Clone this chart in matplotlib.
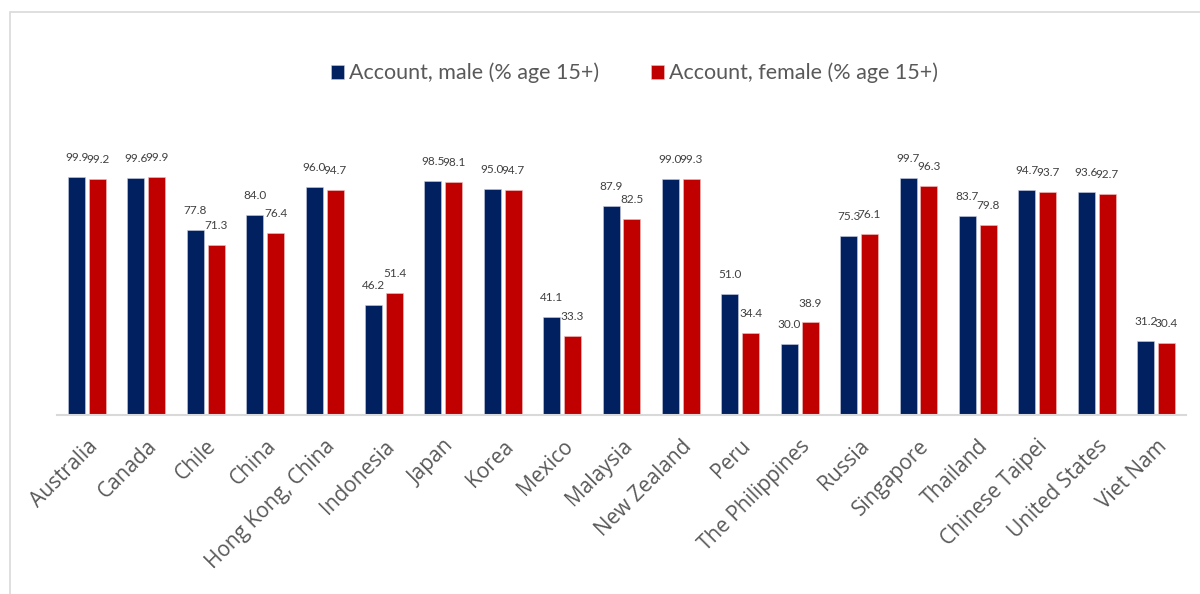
import matplotlib.pyplot as plt
import numpy as np
from matplotlib.patches import Rectangle

economies = [
    "Australia", "Canada", "Chile", "China", "Hong Kong, China", "Indonesia",
    "Japan", "Korea", "Mexico", "Malaysia", "New Zealand", "Peru",
    "The Philippines", "Russia", "Singapore", "Thailand", "Chinese Taipei",
    "United States", "Viet Nam",
]
male = [99.9, 99.6, 77.8, 84.0, 96.0, 46.2, 98.5, 95.0, 41.1, 87.9,
        99.0, 51.0, 30.0, 75.3, 99.7, 83.7, 94.7, 93.6, 31.2]
female = [99.2, 99.9, 71.3, 76.4, 94.7, 51.4, 98.1, 94.7, 33.3, 82.5,
          99.3, 34.4, 38.9, 76.1, 96.3, 79.8, 93.7, 92.7, 30.4]

plt.rcParams["font.family"] = ["Lato", "DejaVu Sans"]

NAVY = "#002060"
RED = "#C00000"
GREY_TEXT = "#595959"

fig = plt.figure(figsize=(12, 5.94), dpi=100)

# outer chart frame (cut off at right and bottom like the source)
fig.patches.append(Rectangle((10 / 1200, -0.2), 1.5, 1 - 12 / 594 + 0.2,
                             transform=fig.transFigure, fill=False,
                             edgecolor="#d9d9d9", linewidth=1.2))

ax = fig.add_axes([0.0478, 0.3013, 0.9403, 0.4407])
x = np.arange(len(economies))
width = 0.286
off = 0.176

bars_m = ax.bar(x - off, male, width, color=NAVY, edgecolor="#c8cde0",
                linewidth=0.4, label="Account, male (% age 15+)")
bars_f = ax.bar(x + off, female, width, color=RED, edgecolor="#f0c0c0",
                linewidth=0.4, label="Account, female (% age 15+)")

for bars, vals in ((bars_m, male), (bars_f, female)):
    for b, v in zip(bars, vals):
        ax.annotate(f"{v:.1f}", (b.get_x() + b.get_width() / 2, v),
                    xytext=(0, 14), textcoords="offset points",
                    ha="center", va="center", fontsize=8.5,
                    color="#404040", annotation_clip=False)

ax.set_xlim(-0.5, len(economies) - 0.5)
ax.set_ylim(0, 110)
ax.set_yticks([])
for side in ("top", "right", "left"):
    ax.spines[side].set_visible(False)
ax.spines["bottom"].set_color("#d9d9d9")
ax.spines["bottom"].set_linewidth(1.5)

ax.set_xticks(x)
ax.set_xticklabels(economies, rotation=45, ha="right", rotation_mode="anchor",
                   fontsize=15, color=GREY_TEXT, family="Open Sans")
ax.tick_params(axis="x", length=0, pad=15)

fig.legend(loc="center", bbox_to_anchor=(0.529, 1 - 73 / 594), ncol=2,
           frameon=False, fontsize=15.5, handlelength=0.6, handleheight=0.6,
           handletextpad=0.25, columnspacing=2.4, labelcolor=GREY_TEXT)

fig.savefig("out.png", dpi=100)
